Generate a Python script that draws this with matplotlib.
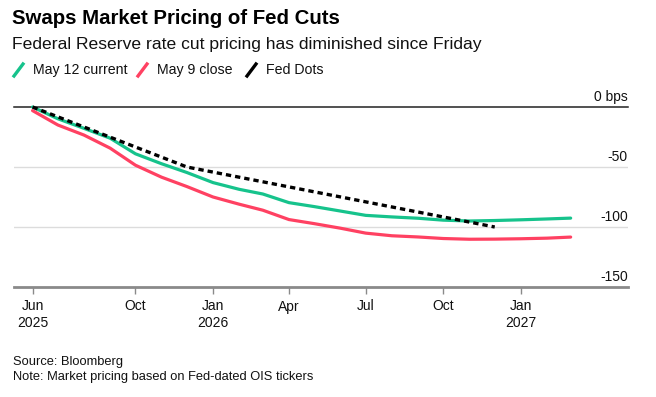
import matplotlib
matplotlib.use("Agg")
import matplotlib.pyplot as plt
from matplotlib.lines import Line2D
import datetime as dt

plt.rcParams['font.family'] = ['Liberation Sans', 'DejaVu Sans']

# ---- data (bps of cuts priced) ----
months = ["2025-06-01", "2025-07-01", "2025-08-01", "2025-09-01", "2025-10-01",
          "2025-11-01", "2025-12-01", "2026-01-01", "2026-02-01", "2026-03-01",
          "2026-04-01", "2026-05-01", "2026-06-01", "2026-07-01", "2026-08-01",
          "2026-09-01", "2026-10-01", "2026-11-01", "2026-12-01", "2027-01-01",
          "2027-02-01", "2027-03-01"]
may12_current = [0, -9.8, -17.8, -26, -39, -47.3, -54.6, -63, -68.6, -72.5,
                 -79.7, -83, -86.7, -90.3, -91.6, -92.7, -94.3, -95, -94.6, -94,
                 -93.3, -92.6]
may9_close = [-3, -15, -23.4, -34.3, -48.5, -58.5, -66.3, -75, -81, -86,
              -93.8, -97.2, -101, -105.1, -107.3, -108.3, -109.6, -110.2, -110.1,
              -109.8, -109.3, -108.4]
dots_dates = ["2025-06-01", "2025-12-01", "2026-12-01"]
fed_dots = [0, -50, -100]

tick_dates = ["2025-06-01", "2025-10-01", "2026-01-01", "2026-04-01",
              "2026-07-01", "2026-10-01", "2027-01-01"]
tick_labels = ["Jun\n2025", "Oct", "Jan\n2026", "Apr", "Jul", "Oct", "Jan\n2027"]
y_ticks = [0, -50, -100, -150]
y_labels = ["0 bps", "-50", "-100", "-150"]

GREEN = "#16c38c"
RED = "#ff4162"

def d(s):
    return dt.datetime.strptime(s, "%Y-%m-%d")

W, H = 656, 397
fig = plt.figure(figsize=(W / 100, H / 100), dpi=100)

def fx(px):
    return px / W

def fy(py):
    return 1 - py / H

ax = fig.add_axes([fx(14), fy(287), fx(628) - fx(14), fy(107) - fy(287)])
ax.set_xlim(d("2025-05-10"), d("2027-05-08"))
ax.set_ylim(-150, 0)

for s in ["top", "right", "left"]:
    ax.spines[s].set_visible(False)
ax.spines["bottom"].set_color("#8a8a8a")
ax.spines["bottom"].set_linewidth(2)

# gridlines
for v in y_ticks[1:3]:
    ax.axhline(v, color="#dcdcdc", lw=1, zorder=1)
ax.axhline(0, color="#222222", lw=1.1, zorder=1, clip_on=False)

x_green = [d(s) for s in months]
ax.plot(x_green, may12_current, color=GREEN, lw=2.3, zorder=3, clip_on=False,
        solid_joinstyle="round", solid_capstyle="round")
ax.plot(x_green, may9_close, color=RED, lw=2.3, zorder=3, clip_on=False,
        solid_joinstyle="round", solid_capstyle="round")
ax.plot([d(s) for s in dots_dates], fed_dots, color="black", lw=2.4,
        dashes=(1.6, 1.2), zorder=4, clip_on=False)

# y labels (right, above gridlines)
ax.set_yticks([])
for v, lab in zip(y_ticks, y_labels):
    ax.text(1.0, v + 2.5, lab, transform=ax.get_yaxis_transform(),
            ha="right", va="bottom", fontsize=10, color="#111111")

ax.set_xticks([d(s) for s in tick_dates])
ax.set_xticklabels(tick_labels, fontsize=10, color="#111111", linespacing=1.25)
ax.tick_params(axis="x", length=5, width=1, color="#8a8a8a", pad=4)

# title / subtitle
fig.text(fx(12), fy(19), "Swaps Market Pricing of Fed Cuts", fontsize=14.7,
         fontweight="bold", va="center", ha="left", color="#000000")
fig.text(fx(12), fy(45), "Federal Reserve rate cut pricing has diminished since Friday",
         fontsize=12.6, va="center", ha="left", color="#111111")

# legend
leg = [(14, GREEN, "May 12 current", 33), (138, RED, "May 9 close", 157),
       (247, "black", "Fed Dots", 266)]
for x0, c, lab, xt in leg:
    fig.add_artist(Line2D([fx(x0), fx(x0 + 9)], [fy(76), fy(64)], color=c,
                          lw=2.4, transform=fig.transFigure))
    fig.text(fx(xt), fy(70), lab, fontsize=10.2, va="center", ha="left",
             color="#111111")

# footer
fig.text(fx(13), fy(362), "Source: Bloomberg", fontsize=9.3, va="center",
         ha="left", color="#111111")
fig.text(fx(13), fy(377), "Note: Market pricing based on Fed-dated OIS tickers",
         fontsize=9.3, va="center", ha="left", color="#111111")

fig.savefig("out.png", dpi=100, facecolor="white")
